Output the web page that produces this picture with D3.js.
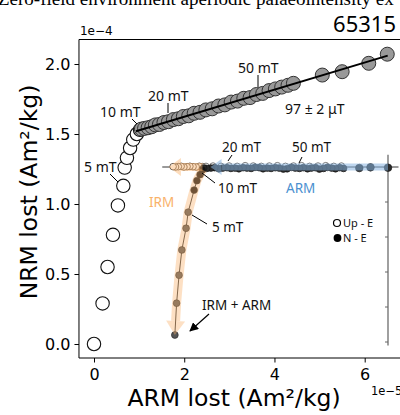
<!DOCTYPE html>
<html>
<head>
<meta charset="utf-8">
<script src="https://cdn.jsdelivr.net/npm/d3@7"></script>
<style>
body { margin: 0; background: #fff; }
text { font-family: "DejaVu Sans", sans-serif; }
.ann { font-family: "Noto Sans", sans-serif; }
</style>
</head>
<body>
<svg id="plot" width="400" height="415"></svg>
<script>
// main plot data (ARM lost x 1e-5, NRM lost x 1e-4)
var xTicks = [0, 2, 4, 6];
var yTicks = [0, 0.5, 1.0, 1.5, 2.0];

// low field steps, 0 - 10 mT (open circles)
var lowX = [0, 0.19, 0.30, 0.42, 0.53, 0.65, 0.68, 0.73, 0.80, 0.87, 0.95, 1.02];
var lowY = [0, 0.29, 0.55, 0.78, 0.99, 1.13, 1.26, 1.33, 1.40, 1.46, 1.50, 1.53];

// fitted steps (grey circles)
var highX = [1.05, 1.12, 1.20, 1.28, 1.36, 1.45, 1.55, 1.65, 1.76, 1.87, 1.98, 2.10, 2.22, 2.35, 2.48,
	2.62, 2.76, 2.90, 3.04, 3.18, 3.32, 3.46, 3.60, 3.74, 3.88, 4.02, 4.16, 4.30, 4.42, 5.06, 5.50, 6.09, 6.50];
var highY = [1.535, 1.540, 1.545, 1.552, 1.565, 1.568, 1.582, 1.588, 1.603, 1.609, 1.625, 1.630, 1.648, 1.655, 1.672,
	1.680, 1.700, 1.708, 1.728, 1.735, 1.755, 1.760, 1.782, 1.790, 1.810, 1.822, 1.835, 1.848, 1.862, 1.921, 1.945, 2.005, 2.070];

var fitX = [0.93, 6.51];
var fitY = [1.52, 2.06];

// inset (orthogonal projection, arbitrary units)
var insetTicks = [-1, -2, -3, -4, -5];
var armNEu = [0, -0.50, -0.82, -1.27, -1.38, -1.50, -1.61, -1.73, -1.84, -1.96, -2.07, -2.19, -2.30, -2.42, -2.53,
	-2.65, -2.76, -2.88, -2.99, -3.11, -3.22, -3.34, -3.45, -3.57, -3.68, -3.80, -3.91, -4.03, -4.14, -4.26,
	-4.37, -4.49, -4.60, -4.72, -4.83, -4.95, -5.06, -5.18, -5.27];
var armNEv = [-0.02, -0.01, -0.03, -0.04, -0.02, -0.05, -0.03, -0.01, -0.04, -0.06, -0.02, -0.03, -0.05, -0.02, -0.04,
	-0.03, -0.01, -0.05, -0.06, -0.03, -0.02, -0.04, -0.03, -0.05, -0.02, -0.01, -0.04, -0.03, -0.02, -0.05,
	-0.03, -0.04, -0.02, -0.03, -0.05, -0.02, -0.03, -0.04, -0.03];
var armUpu = [-1.33, -1.55, -1.78, -2.00, -2.24, -2.47, -2.70, -2.93, -3.16, -3.39, -3.62, -3.85, -4.08, -4.31,
	-4.54, -4.77, -5.00, -5.20];
var armUpv = [0.03, 0.02, 0.04, 0.03, 0.02, 0.04, 0.03, 0.02, 0.04, 0.03, 0.02, 0.03, 0.04, 0.02,
	0.03, 0.02, 0.03, 0.02];
var irmNEu = [-5.30, -5.37, -5.46, -5.54, -5.71, -5.77, -5.89, -5.97, -6.04, -6.09];
var irmNEv = [-0.08, -0.22, -0.39, -0.66, -1.29, -1.75, -2.37, -3.09, -3.89, -4.80];
var irmUpu = [-5.30, -5.39, -5.48, -5.57, -5.66, -5.74, -5.83, -5.91, -5.99, -6.07, -6.14];
var irmUpv = [0.01, 0.02, 0.00, 0.01, 0.02, 0.01, 0.00, 0.02, 0.01, 0.00, 0.01];

var svg = d3.select("#plot");

var x = d3.scaleLinear().domain([0, 6]).range([94, 364.7]);
var y = d3.scaleLinear().domain([0, 2]).range([344, 64]);
var xMin = -0.333, yMin = -0.1, yMax = 2.175;

// cut-off title line at the very top
svg.append("text")
	.attr("x", -2).attr("y", 5)
	.style("font-family", "'Liberation Serif', serif")
	.style("font-size", "19px")
	.text("Zero-field environment aperiodic palaeointensity ex");

svg.append("text").attr("class", "ann")
	.attr("x", 396).attr("y", 32)
	.attr("text-anchor", "end")
	.style("font-size", "22px")
	.text("65315");

// axes
var yAxis = d3.axisLeft(y).tickValues(yTicks).tickFormat(d3.format(".1f")).tickSize(4.5).tickPadding(4);
var gy = svg.append("g").attr("transform", "translate(" + x(xMin) + ",0)").call(yAxis);
var xAxis = d3.axisBottom(x).tickValues(xTicks).tickFormat(d3.format("d")).tickSize(4.5).tickPadding(6);
var gx = svg.append("g").attr("transform", "translate(0," + y(yMin) + ")").call(xAxis);
[gx, gy].forEach(function (g) {
	g.select(".domain").remove();
	g.selectAll("text").style("font-size", "16px").style("font-family", "DejaVu Sans");
	g.selectAll("line").attr("stroke", "#000");
});

svg.append("path")
	.attr("d", "M420," + y(yMax) + "H" + x(xMin) + "V" + y(yMin) + "H420")
	.attr("fill", "none").attr("stroke", "#000").attr("stroke-width", 1);

svg.append("text").attr("x", x(xMin) + 1).attr("y", 35).style("font-size", "12px").text("1e\u22124");
svg.append("text").attr("x", 371).attr("y", 395).style("font-size", "11.5px").text("1e\u22125");

svg.append("text")
	.attr("x", 234).attr("y", 406)
	.attr("text-anchor", "middle")
	.style("font-size", "23.5px")
	.text("ARM lost (Am\u00b2/kg)");
svg.append("text")
	.attr("transform", "translate(37,192) rotate(-90)")
	.attr("text-anchor", "middle")
	.style("font-size", "23.5px")
	.text("NRM lost (Am\u00b2/kg)");

// main points
lowX.forEach(function (d, i) {
	svg.append("circle")
		.attr("cx", x(d)).attr("cy", y(lowY[i])).attr("r", 6.7)
		.attr("fill", "#fff").attr("stroke", "#111").attr("stroke-width", 1.1);
});
highX.forEach(function (d, i) {
	svg.append("circle")
		.attr("cx", x(d)).attr("cy", y(highY[i])).attr("r", 7)
		.attr("fill", "#999").attr("stroke", "#333").attr("stroke-width", 1);
});
svg.append("line")
	.attr("x1", x(fitX[0])).attr("y1", y(fitY[0]))
	.attr("x2", x(fitX[1])).attr("y2", y(fitY[1]))
	.attr("stroke", "#000").attr("stroke-width", 2);

// annotations for the main plot
var leader = function (x1, y1, x2, y2) {
	svg.append("line").attr("x1", x1).attr("y1", y1).attr("x2", x2).attr("y2", y2)
		.attr("stroke", "#000").attr("stroke-width", 1);
};
var label = function (tx, ty, s, size, color) {
	svg.append("text").attr("class", "ann")
		.attr("x", tx).attr("y", ty)
		.style("font-size", size + "px")
		.style("fill", color || "#111")
		.text(s);
};
label(100, 117, "10 mT", 14); leader(132, 119, 137, 124);
label(148, 101, "20 mT", 14); leader(168, 103, 168, 113);
label(238, 73, "50 mT", 14); leader(258, 75, 258, 87);
label(285, 114, "97 \u00b1 2 \u03bcT", 14);
label(84, 172, "5 mT", 14); leader(110, 174, 118, 182);

// inset
var ix = d3.scaleLinear().domain([0, -6.2]).range([388, 171]);
var iy = d3.scaleLinear().domain([0, -5]).range([167, 342]);
var inset = svg.append("g");

inset.append("line")
	.attr("x1", ix(0.3)).attr("x2", ix(-6.45)).attr("y1", iy(0)).attr("y2", iy(0))
	.attr("stroke", "#000").attr("stroke-width", 0.8);
inset.append("line")
	.attr("x1", ix(0)).attr("x2", ix(0)).attr("y1", iy(0.35)).attr("y2", iy(-5.1))
	.attr("stroke", "#888").attr("stroke-width", 1.6);
insetTicks.forEach(function (t) {
	inset.append("line")
		.attr("x1", ix(0) - 3).attr("x2", ix(0)).attr("y1", iy(t)).attr("y2", iy(t))
		.attr("stroke", "#666").attr("stroke-width", 1);
});

// open (Up - E) points
armUpu.forEach(function (d, i) {
	inset.append("circle").attr("cx", ix(d)).attr("cy", iy(armUpv[i])).attr("r", 3.2)
		.attr("fill", "#fff").attr("stroke", "#555").attr("stroke-width", 0.8);
});
irmUpu.forEach(function (d, i) {
	inset.append("circle").attr("cx", ix(d)).attr("cy", iy(irmUpv[i])).attr("r", 3.3)
		.attr("fill", "#fff").attr("stroke", "#5a4a3a").attr("stroke-width", 0.9);
});

// filled (N - E) points
inset.append("path")
	.attr("d", d3.line()(irmNEu.map(function (d, i) { return [ix(d), iy(irmNEv[i])]; })))
	.attr("fill", "none").attr("stroke", "#333").attr("stroke-width", 1);
armNEu.forEach(function (d, i) {
	inset.append("circle").attr("cx", ix(d)).attr("cy", iy(armNEv[i])).attr("r", i < 3 ? 3.8 : 3.4)
		.attr("fill", "#2a2a2a").attr("stroke", "#111").attr("stroke-width", 0.6);
});
irmNEu.forEach(function (d, i) {
	inset.append("circle").attr("cx", ix(d)).attr("cy", iy(irmNEv[i])).attr("r", 3.4)
		.attr("fill", i < 4 ? "#111" : "#555").attr("stroke", "#222").attr("stroke-width", 0.6);
});

// wide arrows over the points
var arrow = function (pts, color, op, w, headLen, headW) {
	var n = pts.length;
	var tip = pts[n - 1], prev = pts[n - 2];
	var dx = tip[0] - prev[0], dy = tip[1] - prev[1];
	var len = Math.sqrt(dx * dx + dy * dy);
	dx /= len; dy /= len;
	var base = [tip[0] - dx * headLen, tip[1] - dy * headLen];
	var body = pts.slice(0, n - 1).concat([base]);
	var g = inset.append("g").style("opacity", op);
	g.append("path").attr("d", d3.line()(body))
		.attr("fill", "none").attr("stroke", color).attr("stroke-width", w);
	g.append("path")
		.attr("d", "M" + (base[0] - dy * headW) + "," + (base[1] + dx * headW) +
			"L" + tip[0] + "," + tip[1] +
			"L" + (base[0] + dy * headW) + "," + (base[1] - dx * headW) + "Z")
		.attr("fill", color);
};
var armLast = armNEu.length - 1;
arrow([[ix(armNEu[0]), iy(0)], [ix(armNEu[armLast] + 0.2), iy(0)]], "#8ab6e2", 0.55, 7, 11, 8);
var irmUpLast = irmUpu.length - 1;
arrow([[ix(irmUpu[0]), iy(0)], [ix(irmUpu[irmUpLast] - 0.12), iy(0)]], "#fbb46e", 0.45, 8, 12, 9);
arrow(irmNEu.map(function (d, i) { return [ix(d), iy(irmNEv[i])]; }), "#fbb46e", 0.4, 9, 14, 9.5);

// inset labels
label(222, 152, "20 mT", 13.5); leader(232, 155, 228, 161);
label(292, 152, "50 mT", 13.5); leader(302, 157, 299, 163);
label(218, 193, "10 mT", 13.5); leader(215, 183, 202, 173);
label(286, 193, "ARM", 13.5, "#4a90d0");
label(149, 207, "IRM", 13.5, "#f9b26a");
label(212, 232, "5 mT", 13.5); leader(207, 224, 192, 215);
label(202, 310, "IRM + ARM", 13.5);
svg.append("defs").append("marker")
	.attr("id", "head").attr("viewBox", "0 0 10 10")
	.attr("refX", 9).attr("refY", 5)
	.attr("markerWidth", 9).attr("markerHeight", 9)
	.attr("markerUnits", "userSpaceOnUse")
	.attr("orient", "auto")
	.append("path").attr("d", "M0,0L10,5L0,10Z").attr("fill", "#000");
svg.append("line")
	.attr("x1", 209).attr("y1", 314).attr("x2", 190).attr("y2", 331)
	.attr("stroke", "#000").attr("stroke-width", 1.2)
	.attr("marker-end", "url(#head)");

// legend
svg.append("circle").attr("cx", 337).attr("cy", 223).attr("r", 3.5)
	.attr("fill", "#fff").attr("stroke", "#000").attr("stroke-width", 1.2);
svg.append("circle").attr("cx", 337.5).attr("cy", 238).attr("r", 3.9).attr("fill", "#000");
label(343, 227, "Up - E", 11);
label(343, 242, "N - E", 11);
</script>
</body>
</html>
